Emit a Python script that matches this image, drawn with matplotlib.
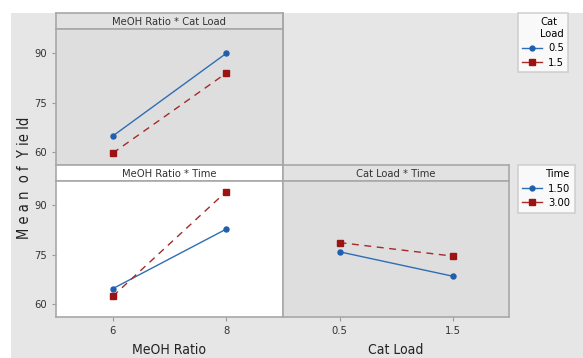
import matplotlib
matplotlib.use("Agg")
import matplotlib.pyplot as plt
from matplotlib.patches import Rectangle
from matplotlib.lines import Line2D

plt.rcParams['font.family'] = ['DejaVu Sans']
plt.rcParams['font.stretch'] = 'condensed'

# data
meoh_levels = [6, 8]
cat_levels = [0.5, 1.5]
cat_labels = ["0.5", "1.5"]
time_labels = ["1.50", "3.00"]

# MeOH Ratio * Cat Load
meoh_cat_05 = [64.9, 90.0]
meoh_cat_15 = [59.7, 84.0]
# MeOH Ratio * Time
meoh_time_150 = [64.7, 82.8]
meoh_time_300 = [62.4, 94.2]
# Cat Load * Time
cat_time_150 = [75.9, 68.5]
cat_time_300 = [78.7, 74.6]

y_ticks = [60, 75, 90]

W, H = 583, 358
BLUE = "#2f6db5"
BLUE_M = "#1f5fb0"
RED = "#a52a2a"
RED_M = "#9b1313"
EDGE = "#a8a8a8"
PANEL = "#dedede"
FIGBG = "#e6e6e6"

fig = plt.figure(figsize=(W / 100, H / 100), dpi=100, facecolor="white")
fig.patches.append(Rectangle((11 / W, 0), 1, 1 - 13 / H, transform=fig.transFigure,
                             facecolor=FIGBG, edgecolor="none", zorder=-10))


def px_axes(x0, y0, x1, y1, **kw):
    return fig.add_axes([x0 / W, 1 - y1 / H, (x1 - x0) / W, (y1 - y0) / H], **kw)


def strip(x0, y0, x1, y1, text, bg):
    s = px_axes(x0, y0, x1, y1)
    s.set_facecolor(bg)
    s.set_xticks([])
    s.set_yticks([])
    for sp in s.spines.values():
        sp.set_color(EDGE)
        sp.set_linewidth(1.2)
    s.text(0.5, 0.45, text, ha="center", va="center", fontsize=8, color="#333333",
           transform=s.transAxes)


def panel(x0, y0, x1, y1, bg, xlim):
    a = px_axes(x0, y0, x1, y1)
    a.set_facecolor(bg)
    a.set_xlim(*xlim)
    a.set_ylim(56.1, 97.4)
    for sp in a.spines.values():
        sp.set_color(EDGE)
        sp.set_linewidth(1.2)
    a.tick_params(colors="#999999", labelcolor="#333333", labelsize=8, length=3, width=0.8)
    return a


def draw_pair(a, x, ya, yb):
    a.plot(x, ya, color=BLUE, lw=1.0, marker="o", ms=3.6, mfc=BLUE_M, mec=BLUE_M)
    a.plot(x, yb, color=RED, lw=1.0, ls=(0, (5, 4)), marker="s", ms=4.2, mfc=RED_M, mec=RED_M)


# top-left: MeOH Ratio * Cat Load
strip(56, 13, 283, 29, "MeOH Ratio * Cat Load", "#e2e2e2")
ax1 = panel(56, 29, 283, 165, PANEL, (5.0, 9.0))
draw_pair(ax1, meoh_levels, meoh_cat_05, meoh_cat_15)
ax1.set_yticks(y_ticks)
ax1.set_xticks([])

# bottom-left: MeOH Ratio * Time
strip(56, 165, 283, 181, "MeOH Ratio * Time", "white")
ax2 = panel(56, 181, 283, 317, "white", (5.0, 9.0))
draw_pair(ax2, meoh_levels, meoh_time_150, meoh_time_300)
ax2.set_yticks(y_ticks)
ax2.set_xticks(meoh_levels)
ax2.set_xticklabels([str(v) for v in meoh_levels])
ax2.set_xlabel("MeOH Ratio", fontsize=10, color="#222222", labelpad=5)

# bottom-right: Cat Load * Time
strip(283, 165, 509, 181, "Cat Load * Time", "#e2e2e2")
ax3 = panel(283, 181, 509, 317, PANEL, (0.0, 2.0))
draw_pair(ax3, cat_levels, cat_time_150, cat_time_300)
ax3.set_yticks([])
ax3.set_xticks(cat_levels)
ax3.set_xticklabels(cat_labels)
ax3.set_xlabel("Cat Load", fontsize=10, color="#222222", labelpad=5)

# divider line of the empty top-right cell
fig.add_artist(Line2D([283 / W, 283 / W], [1 - 13 / H, 1 - 165 / H], color=EDGE, lw=1.2))

fig.text(25 / W, 1 - 178 / H, "M e a n  o f  Y ie ld", rotation=90, ha="center",
         va="center", fontsize=10.5, color="#222222")


def handles():
    return [Line2D([], [], color=BLUE, lw=1.0, marker="o", ms=3.5, mfc=BLUE_M, mec=BLUE_M),
            Line2D([], [], color=RED, lw=1.0, marker="s", ms=5, mfc=RED_M, mec=RED_M)]


for labels, title, ytop in [(cat_labels, "Cat\nLoad", 13), (time_labels, "Time", 165)]:
    leg = fig.legend(handles(), labels, title=title, loc="upper left",
                     bbox_to_anchor=(518 / W, 1 - ytop / H), borderaxespad=0,
                     fontsize=8, title_fontsize=8, frameon=True, fancybox=False,
                     edgecolor="#c8c8c8", handlelength=1.8, handletextpad=0.5,
                     borderpad=0.4, labelspacing=0.4, alignment="right")
    leg.get_frame().set_linewidth(1.2)

fig.savefig("out.png", dpi=100, facecolor=fig.get_facecolor())
